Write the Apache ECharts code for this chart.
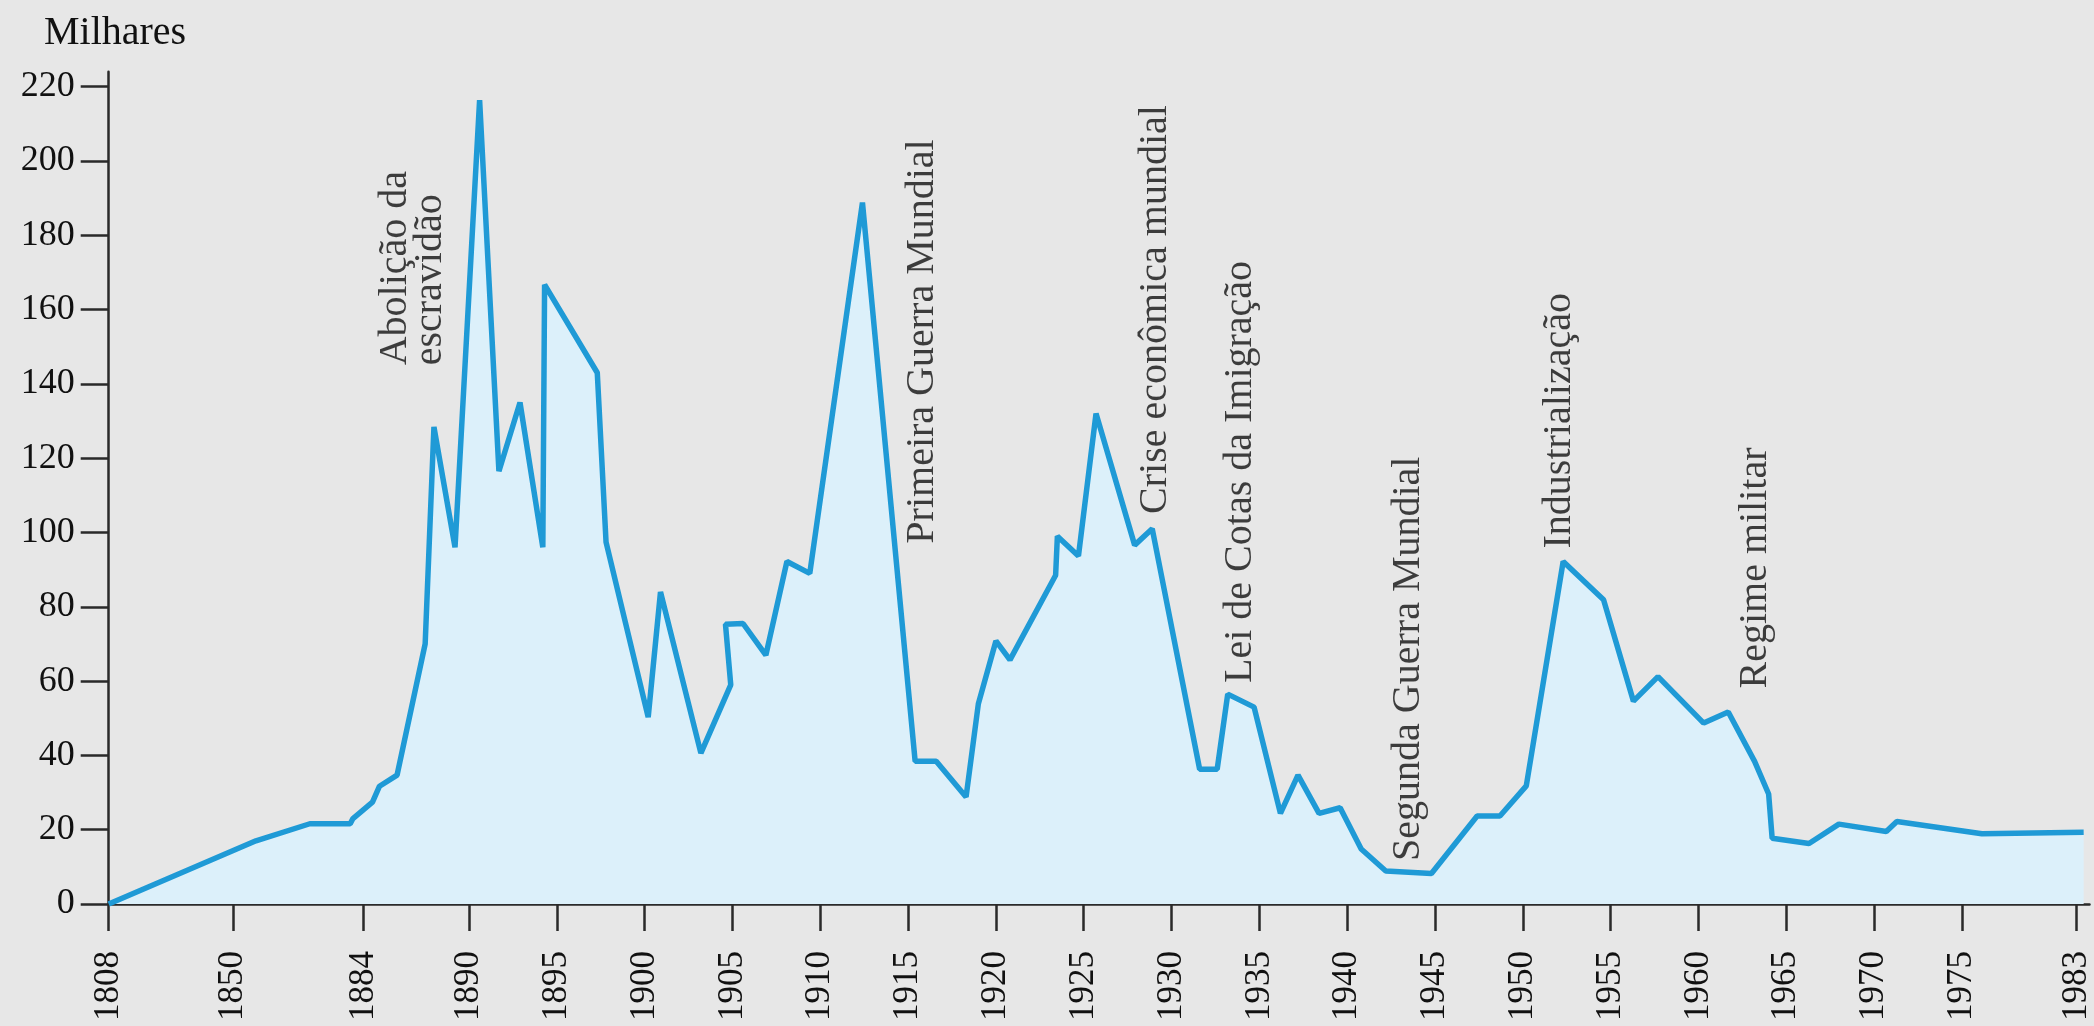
<!DOCTYPE html>
<html>
<head>
<meta charset="utf-8">
<script src="https://cdn.jsdelivr.net/npm/echarts@6/dist/echarts.min.js"></script>
<style>
html,body{margin:0;padding:0;background:#e7e7e7;}
#c{width:2094px;height:1026px;}
</style>
</head>
<body>
<div id="c"></div>
<script>
// ---- data ----
const years = [1808, 1856, 1870, 1880.5, 1881.2, 1884.5, 1884.9, 1885.9, 1887.5, 1888, 1889.2, 1890.6,
  1891.7, 1892.9, 1894.2, 1894.3, 1897.3, 1897.8, 1900.2, 1900.9, 1903.2, 1904.9, 1904.6, 1905.6,
  1906.9, 1908.1, 1909.4, 1912.4, 1915.4, 1916.6, 1918.3, 1919.0, 1920.0, 1920.8, 1923.4, 1923.5,
  1924.7, 1925.7, 1927.9, 1928.9, 1931.6, 1932.6, 1933.2, 1934.7, 1936.2, 1937.2, 1938.4, 1939.6,
  1940.8, 1942.2, 1944.8, 1947.4, 1948.7, 1950.2, 1952.3, 1954.6, 1956.3, 1957.7, 1960.3, 1961.7,
  1963.2, 1964.0, 1964.2, 1966.3, 1968.0, 1970.7, 1971.3, 1976.4, 1983.5];
const values = [0, 17, 21.6, 21.6, 23, 27.4, 31.7, 34.7, 70, 128.4, 96, 216.4,
  116.5, 135, 96, 166.7, 143, 97.4, 50.3, 84, 40.6, 59, 75.3, 75.5,
  67, 92.2, 89, 188.8, 38.4, 38.4, 28.8, 53.9, 70.8, 65.7, 88.5, 99,
  93.7, 132, 96.6, 101, 36.3, 36.3, 56.5, 53, 24.4, 34.7, 24.4, 25.9,
  14.8, 8.9, 8.2, 23.7, 23.7, 31.8, 92.2, 81.9, 54.6, 61.2, 48.7, 51.7,
  38.4, 29.6, 17.7, 16.3, 21.5, 19.5, 22.2, 18.9, 19.3];

const tickYears = [1808, 1850, 1884, 1890, 1895, 1900, 1905, 1910, 1915, 1920, 1925, 1930,
  1935, 1940, 1945, 1950, 1955, 1960, 1965, 1970, 1975, 1983];
const yTicks = [0, 20, 40, 60, 80, 100, 120, 140, 160, 180, 200, 220];

const annTexts = ['Abolição da\nescravidão', 'Primeira Guerra Mundial', 'Crise econômica mundial',
  'Lei de Cotas da Imigração', 'Segunda Guerra Mundial', 'Industrialização', 'Regime militar'];
const annYears = [1886.8, 1915.8, 1929.1, 1933.9, 1943.5, 1952.1, 1963.25];
const annValues = [145, 97, 105, 59.5, 11.6, 95.7, 58];

// the time axis of the original is not linear: [fromYear, toYear, width in axis units]
const axisSegments = [[1808, 1850, 7.07], [1850, 1884, 7.45], [1884, 1975, 91], [1975, 1983, 6.53]];
const axisExtra = 0.74;

function toAxis(yr) {
  let u = 0;
  for (let i = 0; i < axisSegments.length; i++) {
    const s = axisSegments[i];
    if (yr <= s[1] || i === axisSegments.length - 1) {
      return u + (yr - s[0]) / (s[1] - s[0]) * s[2];
    }
    u += s[2];
  }
  return u;
}
const axisMax = axisSegments.reduce((a, s) => a + s[2], 0) + axisExtra;
const tickPos = tickYears.map(toAxis);

const FONT = '"Liberation Serif", "Times New Roman", serif';
const INK = '#111111';

const chart = echarts.init(document.getElementById('c'), null, {renderer: 'canvas'});
chart.setOption({
  backgroundColor: '#e7e7e7',
  animation: false,
  grid: {left: 108.7, right: 0, top: 71.8, bottom: 122},
  graphic: [{
    type: 'text', left: 44, top: 13,
    style: {text: 'Milhares', font: '40px ' + FONT, fill: INK}
  }],
  xAxis: {
    type: 'value', min: 0, max: axisMax,
    axisLine: {show: true, onZero: false, lineStyle: {color: '#2a2a2a', width: 2.5}},
    axisTick: {show: true, length: 27, customValues: tickPos, lineStyle: {color: '#2a2a2a', width: 2.5}},
    axisLabel: {
      customValues: tickPos, rotate: 90, margin: 47, fontSize: 35, fontFamily: FONT, color: INK,
      formatter: function (v) {
        for (let i = 0; i < tickPos.length; i++) if (Math.abs(tickPos[i] - v) < 1e-6) return String(tickYears[i]);
        return '';
      }
    },
    splitLine: {show: false}
  },
  yAxis: {
    type: 'value', min: 0, max: 224,
    axisLine: {show: true, lineStyle: {color: '#2a2a2a', width: 2.5}},
    axisTick: {show: true, length: 28, customValues: yTicks, lineStyle: {color: '#2a2a2a', width: 2.5}},
    axisLabel: {customValues: yTicks, margin: 34, fontSize: 36, fontFamily: FONT, color: INK},
    splitLine: {show: false}
  },
  series: [{
    type: 'line',
    data: years.map((y, i) => [toAxis(y), values[i]]),
    showSymbol: false,
    lineStyle: {color: '#1f9ad6', width: 5.5},
    areaStyle: {color: '#dcf0fa', opacity: 1},
    z: 2
  }, {
    type: 'scatter',
    data: annYears.map((y, i) => [toAxis(y), annValues[i], annTexts[i]]),
    symbolSize: 1,
    itemStyle: {color: 'rgba(0,0,0,0)'},
    label: {
      show: true, position: 'inside', rotate: 90, align: 'left', verticalAlign: 'middle',
      fontSize: 40, lineHeight: 35, fontFamily: FONT, color: INK,
      formatter: p => p.data[2]
    },
    z: 3
  }]
});
</script>
</body>
</html>
